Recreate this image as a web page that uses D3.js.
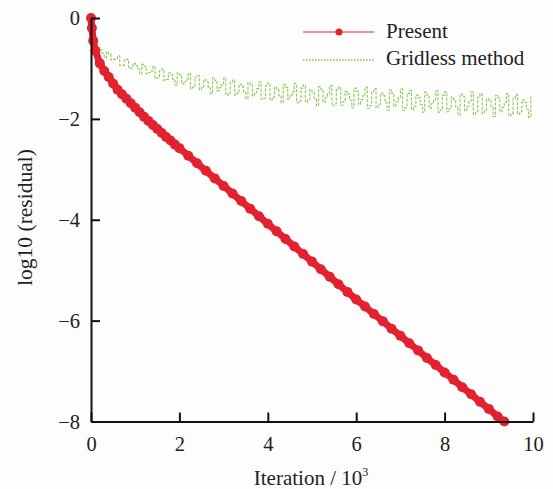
<!DOCTYPE html>
<html><head><meta charset="utf-8">
<script src="https://cdn.jsdelivr.net/npm/d3@7"></script>
<style>
html,body{margin:0;padding:0;background:#fdfdfd;}
svg{display:block;}
svg text{font-family:"Liberation Serif","Times New Roman","DejaVu Serif",serif !important;fill:#222;}
</style></head>
<body>
<script>
// ---- data ----
const xTicks = [0, 2, 4, 6, 8, 10];
const yTicks = [-8, -6, -4, -2, 0];
const seriesNames = ["Present", "Gridless method"];

const presentX = [0, 0.02, 0.05, 0.1, 0.2, 0.3, 0.4, 0.5, 0.6, 0.7, 0.8, 0.9, 1.0, 1.1, 1.2, 1.3, 1.4, 1.5, 1.6, 1.7, 1.8, 1.9, 2.0,
  2.2, 2.4, 2.6, 2.8, 3.0, 3.2, 3.4, 3.6, 3.8, 4.0, 4.2, 4.4, 4.6, 4.8, 5.0, 5.2, 5.4, 5.6, 5.8, 6.0,
  6.2, 6.4, 6.6, 6.8, 7.0, 7.2, 7.4, 7.6, 7.8, 8.0, 8.2, 8.4, 8.6, 8.8, 9.0, 9.2, 9.35];
const presentY = [0, -0.2, -0.45, -0.65, -0.9, -1.05, -1.17, -1.3, -1.42, -1.51, -1.6, -1.69, -1.78, -1.87, -1.96, -2.04, -2.12, -2.2, -2.28, -2.36, -2.43, -2.51, -2.58,
  -2.73, -2.88, -3.03, -3.18, -3.33, -3.48, -3.63, -3.78, -3.93, -4.08, -4.23, -4.38, -4.53, -4.68, -4.83, -4.98, -5.13, -5.28, -5.43, -5.58,
  -5.72, -5.87, -6.01, -6.16, -6.30, -6.45, -6.59, -6.74, -6.88, -7.03, -7.17, -7.32, -7.46, -7.61, -7.75, -7.90, -8.0];

// Gridless method: readings at whole tenths (A) and at the half-tenths between them (B)
const gridlessXA = [0.0, 0.1, 0.2, 0.3, 0.4, 0.5, 0.6, 0.7, 0.8, 0.9, 1.0, 1.1, 1.2, 1.3, 1.4, 1.5, 1.6, 1.7, 1.8, 1.9,
  2.0, 2.1, 2.2, 2.3, 2.4, 2.5, 2.6, 2.7, 2.8, 2.9, 3.0, 3.1, 3.2, 3.3, 3.4, 3.5, 3.6, 3.7, 3.8, 3.9,
  4.0, 4.1, 4.2, 4.3, 4.4, 4.5, 4.6, 4.7, 4.8, 4.9, 5.0, 5.1, 5.2, 5.3, 5.4, 5.5, 5.6, 5.7, 5.8, 5.9,
  6.0, 6.1, 6.2, 6.3, 6.4, 6.5, 6.6, 6.7, 6.8, 6.9, 7.0, 7.1, 7.2, 7.3, 7.4, 7.5, 7.6, 7.7, 7.8, 7.9,
  8.0, 8.1, 8.2, 8.3, 8.4, 8.5, 8.6, 8.7, 8.8, 8.9, 9.0, 9.1, 9.2, 9.3, 9.4, 9.5, 9.6, 9.7, 9.8, 9.9];
const gridlessYA = [-0.40, -0.61, -0.63, -0.79, -0.71, -0.82, -0.75, -0.94, -0.82, -0.99,
  -0.94, -1.11, -0.96, -1.08, -0.96, -1.19, -1.01, -1.22, -1.13, -1.33,
  -1.13, -1.26, -1.10, -1.37, -1.14, -1.38, -1.26, -1.50, -1.24, -1.38,
  -1.19, -1.51, -1.23, -1.49, -1.36, -1.60, -1.32, -1.48, -1.27, -1.59,
  -1.29, -1.57, -1.42, -1.68, -1.37, -1.54, -1.30, -1.65, -1.33, -1.62,
  -1.47, -1.74, -1.41, -1.58, -1.34, -1.70, -1.37, -1.66, -1.51, -1.78,
  -1.45, -1.62, -1.37, -1.74, -1.40, -1.71, -1.54, -1.83, -1.49, -1.66,
  -1.41, -1.78, -1.44, -1.75, -1.58, -1.87, -1.53, -1.70, -1.45, -1.82,
  -1.47, -1.80, -1.62, -1.92, -1.56, -1.75, -1.47, -1.87, -1.50, -1.83,
  -1.64, -1.95, -1.58, -1.77, -1.50, -1.89, -1.52, -1.86, -1.67, -1.97];
const gridlessXB = [0.05, 0.15, 0.25, 0.35, 0.45, 0.55, 0.65, 0.75, 0.85, 0.95, 1.05, 1.15, 1.25, 1.35, 1.45, 1.55, 1.65, 1.75, 1.85, 1.95,
  2.05, 2.15, 2.25, 2.35, 2.45, 2.55, 2.65, 2.75, 2.85, 2.95, 3.05, 3.15, 3.25, 3.35, 3.45, 3.55, 3.65, 3.75, 3.85, 3.95,
  4.05, 4.15, 4.25, 4.35, 4.45, 4.55, 4.65, 4.75, 4.85, 4.95, 5.05, 5.15, 5.25, 5.35, 5.45, 5.55, 5.65, 5.75, 5.85, 5.95,
  6.05, 6.15, 6.25, 6.35, 6.45, 6.55, 6.65, 6.75, 6.85, 6.95, 7.05, 7.15, 7.25, 7.35, 7.45, 7.55, 7.65, 7.75, 7.85, 7.95,
  8.05, 8.15, 8.25, 8.35, 8.45, 8.55, 8.65, 8.75, 8.85, 8.95, 9.05, 9.15, 9.25, 9.35, 9.45, 9.55, 9.65, 9.75, 9.85, 9.95];
const gridlessYB = [-0.50, -0.59, -0.70, -0.67, -0.83, -0.80, -0.94, -0.84, -1.00, -0.90,
  -1.01, -0.92, -1.11, -1.05, -1.20, -1.04, -1.24, -1.09, -1.22, -1.09,
  -1.31, -1.21, -1.40, -1.17, -1.42, -1.22, -1.37, -1.19, -1.44, -1.32,
  -1.53, -1.27, -1.53, -1.31, -1.46, -1.28, -1.54, -1.40, -1.61, -1.34,
  -1.63, -1.37, -1.54, -1.32, -1.61, -1.46, -1.68, -1.39, -1.67, -1.42,
  -1.59, -1.36, -1.67, -1.50, -1.74, -1.42, -1.73, -1.46, -1.63, -1.39,
  -1.71, -1.54, -1.79, -1.46, -1.78, -1.49, -1.68, -1.43, -1.75, -1.58,
  -1.83, -1.50, -1.82, -1.53, -1.72, -1.47, -1.79, -1.62, -1.87, -1.53,
  -1.86, -1.57, -1.76, -1.51, -1.84, -1.65, -1.91, -1.57, -1.89, -1.60,
  -1.78, -1.54, -1.86, -1.67, -1.94, -1.59, -1.91, -1.62, -1.81, -1.56];

// ---- layout ----
const W = 553, H = 489;
const svg = d3.select("body").append("svg").attr("width", W).attr("height", H);
const x = d3.scaleLinear().domain([0, 10]).range([91, 533]);
const y = d3.scaleLinear().domain([-8, 0]).range([421.5, 18]);

const red = "#e3212f", green = "#84c23f";
const serif = "'Liberation Serif','Times New Roman','DejaVu Serif',serif";

// gridless
const gridless = gridlessXA.map((v, i) => [v, gridlessYA[i]])
  .concat(gridlessXB.map((v, i) => [v, gridlessYB[i]]))
  .sort((a, b) => a[0] - b[0]);
const gLine = d3.line().x(d => x(d[0])).y(d => y(d[1])).curve(d3.curveStepAfter);
svg.append("path").datum(gridless).attr("d", gLine)
  .attr("fill", "none").attr("stroke", green).attr("stroke-width", 1.1)
  .attr("stroke-dasharray", "3,1.5").attr("opacity", 0.9);

// present
const pLine = d3.line().x((d, i) => x(presentX[i])).y(d => y(d));
svg.append("path").datum(presentY).attr("d", pLine)
  .attr("fill", "none").attr("stroke", red).attr("stroke-width", 7);
svg.append("g").selectAll("circle").data(presentY).join("circle")
  .attr("cx", (d, i) => x(presentX[i])).attr("cy", d => y(d)).attr("r", 5).attr("fill", red);

// axes
const xAxis = svg.append("g").attr("transform", `translate(0,${y(-8)})`)
  .call(d3.axisBottom(x).tickValues(xTicks).tickSizeInner(-9).tickSizeOuter(0).tickPadding(15).tickFormat(d3.format("d")));
const yAxis = svg.append("g").attr("transform", `translate(${x(0)},0)`)
  .call(d3.axisLeft(y).tickValues(yTicks).tickSizeInner(-9).tickSizeOuter(0).tickPadding(11).tickFormat(d => d < 0 ? "\u2212" + Math.abs(d) : d));
[xAxis, yAxis].forEach(a => {
  a.attr("font-family", serif);
  a.select(".domain").attr("stroke", "#111").attr("stroke-width", 2);
  a.selectAll(".tick line").attr("stroke", "#111").attr("stroke-width", 2);
  a.selectAll(".tick text").style("font-family", serif).attr("font-size", 20.5).attr("fill", "#222");
});

// axis titles
const xt = svg.append("text").attr("x", 311).attr("y", 485).attr("text-anchor", "middle").attr("font-size", 21).style("font-family", serif);
xt.append("tspan").text("Iteration / 10");
xt.append("tspan").attr("dy", -9).attr("font-size", 12).text("3");
svg.append("text").attr("transform", "translate(32,217.5) rotate(-90)").attr("text-anchor", "middle")
  .attr("font-size", 21.5).style("font-family", serif).text("log10 (residual)");

// legend
const lg = svg.append("g");
lg.append("line").attr("x1", 303).attr("x2", 374).attr("y1", 32).attr("y2", 32).attr("stroke", red).attr("stroke-width", 1.2);
lg.append("circle").attr("cx", 339).attr("cy", 32).attr("r", 3.5).attr("fill", red);
lg.append("text").attr("x", 386).attr("y", 38).attr("font-size", 21).style("font-family", serif).text(seriesNames[0]);
lg.append("line").attr("x1", 303).attr("x2", 374).attr("y1", 60).attr("y2", 60).attr("stroke", green).attr("stroke-width", 1.5).attr("stroke-dasharray", "1.5,1.5");
lg.append("text").attr("x", 386).attr("y", 65).attr("font-size", 21).style("font-family", serif).text(seriesNames[1]);
</script>
</body></html>
